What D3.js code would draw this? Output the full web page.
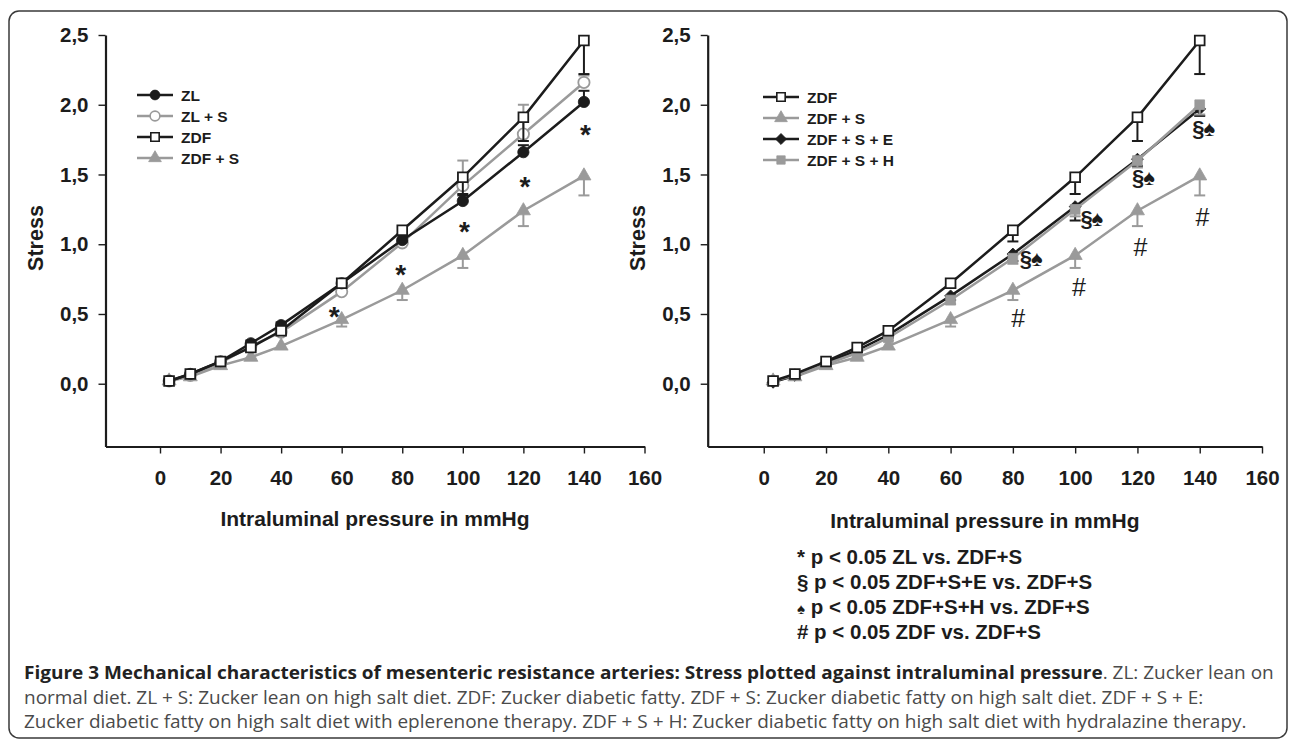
<!DOCTYPE html>
<html><head><meta charset="utf-8">
<script src="https://cdn.jsdelivr.net/npm/d3@7"></script>
<style>body{margin:0;background:#fff;} svg{display:block;}</style>
</head><body>
<svg id="c" width="1295" height="740"></svg>
<script>
// ---------- DATA ----------
const pressure = [3, 10, 20, 30, 40, 60, 80, 100, 120, 140];
const xTicks = [0, 20, 40, 60, 80, 100, 120, 140, 160];
const yTicks = [0, 0.5, 1, 1.5, 2, 2.5];

const ZL      = [0.02, 0.07, 0.16, 0.29, 0.42, 0.72, 1.03, 1.31, 1.66, 2.02];
const ZL_S    = [0.02, 0.06, 0.15, 0.27, 0.37, 0.66, 1.01, 1.42, 1.79, 2.16];
const ZDF     = [0.02, 0.07, 0.16, 0.26, 0.38, 0.72, 1.10, 1.48, 1.91, 2.46];
const ZDF_S   = [0.02, 0.05, 0.13, 0.19, 0.27, 0.46, 0.67, 0.92, 1.24, 1.49];
const ZDF_S_E = [0.01, 0.06, 0.15, 0.24, 0.35, 0.63, 0.93, 1.27, 1.61, 1.97];
const ZDF_S_H = [0.02, 0.06, 0.14, 0.22, 0.33, 0.60, 0.90, 1.25, 1.60, 2.00];

// SEM (one-sided bars)
const ZL_err      = [0, 0, 0.01, 0.02, 0.02, 0.03, 0.04, 0.04, 0.05, 0.08];
const ZL_S_err    = [0, 0, 0.01, 0.02, 0.02, 0.04, 0.05, 0.18, 0.21, 0.05];
const ZDF_err     = [0, 0, 0.01, 0.02, 0.02, 0.03, 0.08, 0.12, 0.17, 0.24];
const ZDF_S_err   = [0, 0, 0.01, 0.01, 0.02, 0.05, 0.07, 0.09, 0.11, 0.14];
const ZDF_S_E_err = [0, 0, 0.01, 0.01, 0.02, 0.03, 0.05, 0.10, 0.05, 0.05];
const ZDF_S_H_err = [0, 0, 0.01, 0.01, 0.02, 0.03, 0.04, 0.05, 0.05, 0.07];

// significance marks
const starX = [57.5, 79.5, 100.5, 120.5, 140.5];
const starY = [0.54, 0.84, 1.15, 1.47, 1.84];
const secX  = [85.7, 105.2, 121.8, 141.1];
const secY  = [0.895, 1.18, 1.48, 1.83];
const hashX = [81.7, 101.2, 121.0, 140.9];
const hashY = [0.47, 0.69, 0.98, 1.19];

const footnotes = [
  ["*", " p < 0.05 ZL vs. ZDF+S"],
  ["§", " p < 0.05 ZDF+S+E vs. ZDF+S"],
  ["♠", " p < 0.05 ZDF+S+H vs. ZDF+S"],
  ["#", " p < 0.05 ZDF vs. ZDF+S"]
];
const captionBold = "Figure 3 Mechanical characteristics of mesenteric resistance arteries: Stress plotted against intraluminal pressure";
const captionLines = [
  ". ZL: Zucker lean on",
  "normal diet. ZL + S: Zucker lean on high salt diet. ZDF: Zucker diabetic fatty. ZDF + S: Zucker diabetic fatty on high salt diet. ZDF + S + E:",
  "Zucker diabetic fatty on high salt diet with eplerenone therapy. ZDF + S + H: Zucker diabetic fatty on high salt diet with hydralazine therapy."
];

// ---------- STYLE ----------
const BLACK = "#1c1c1c", GRAY = "#9a9a9a";
const FONT = "'Liberation Sans', Arial, sans-serif";
const svg = d3.select("#c");

svg.append("rect").attr("x", 9).attr("y", 11).attr("width", 1278).attr("height", 727)
  .attr("rx", 10).attr("fill", "none").attr("stroke", "#3a3a3a").attr("stroke-width", 1.5);

function symPath(type, size) {
  const t = {circle: d3.symbolCircle, square: d3.symbolSquare, tri: d3.symbolTriangle, diamond: d3.symbolSquare}[type];
  return d3.symbol().type(t).size(size)();
}
const symRot = {circle: 0, square: 0, tri: 0, diamond: 45};
const symSize = {circle: 100, square: 95, tri: 85, diamond: 70};
const legSize = {circle: 75, square: 70, tri: 70, diamond: 60};

function panel(cfg) {
  const x = d3.scaleLinear().domain([-18, 160]).range([cfg.x0, cfg.x1]);
  const y = d3.scaleLinear().domain([-0.45, 2.5]).range([446.5, 35]);
  const g = svg.append("g");

  const ya = g.append("g").attr("transform", `translate(${cfg.x0},0)`)
    .call(d3.axisLeft(y).tickValues(yTicks).tickSize(7).tickSizeOuter(0).tickPadding(10)
      .tickFormat(d => d3.format(".1f")(d).replace(".", ",")));
  const xa = g.append("g").attr("transform", `translate(0,446.5)`)
    .call(d3.axisBottom(x).tickValues(xTicks).tickSize(7).tickSizeOuter(0).tickPadding(17));
  [ya, xa].forEach(a => {
    a.select(".domain").attr("stroke", BLACK).attr("stroke-width", 2.2);
    a.selectAll(".tick line").attr("stroke", BLACK).attr("stroke-width", 1.4);
    a.selectAll("text").attr("fill", BLACK).style("font-family", FONT)
      .style("font-weight", "bold").style("font-size", "20.5px");
  });

  g.append("text").attr("transform", `translate(${cfg.x0 - 70},238) rotate(-90)`)
    .attr("text-anchor", "middle").attr("dy", "0.35em").attr("fill", BLACK)
    .style("font-family", FONT).style("font-weight", "bold").style("font-size", "21.5px").text("Stress");
  g.append("text").attr("x", (cfg.x0 + cfg.x1) / 2).attr("y", cfg.titleY)
    .attr("text-anchor", "middle").attr("fill", BLACK)
    .style("font-family", FONT).style("font-weight", "bold").style("font-size", "21px")
    .text("Intraluminal pressure in mmHg");

  const line = d3.line().x((d, i) => x(pressure[i])).y(d => y(d));

  cfg.drawOrder.forEach(s => {
    const sg = g.append("g");
    s.vals.forEach((v, i) => {
      const e = s.err[i];
      if (!e) return;
      const y1 = y(v + s.dir * e), xc = x(pressure[i]);
      sg.append("line").attr("x1", xc).attr("x2", xc).attr("y1", y(v)).attr("y2", y1)
        .attr("stroke", s.color).attr("stroke-width", 2);
      sg.append("line").attr("x1", xc - 5.5).attr("x2", xc + 5.5).attr("y1", y1).attr("y2", y1)
        .attr("stroke", s.color).attr("stroke-width", 2);
    });
    sg.append("path").datum(s.vals).attr("d", line).attr("fill", "none")
      .attr("stroke", s.color).attr("stroke-width", 2.5);
    sg.selectAll("path.m").data(s.vals).enter().append("path").attr("class", "m")
      .attr("transform", (d, i) => `translate(${x(pressure[i])},${y(d)}) rotate(${symRot[s.sym]})`)
      .attr("d", symPath(s.sym, symSize[s.sym]))
      .attr("fill", s.open ? "#fff" : s.color)
      .attr("stroke", s.color).attr("stroke-width", s.open ? 1.8 : 0.8);
  });

  cfg.legend.forEach((s, i) => {
    const ly = cfg.legY + i * 21;
    const lx0 = cfg.legX, lx1 = cfg.legX + 36, lc = cfg.legX + 18;
    g.append("line").attr("x1", lx0).attr("x2", lx1).attr("y1", ly).attr("y2", ly)
      .attr("stroke", s.color).attr("stroke-width", 2.5);
    g.append("path").attr("transform", `translate(${lc},${ly}) rotate(${symRot[s.sym]})`)
      .attr("d", symPath(s.sym, legSize[s.sym]))
      .attr("fill", s.open ? "#fff" : s.color).attr("stroke", s.color).attr("stroke-width", s.open ? 1.6 : 0.8);
    g.append("text").attr("x", lx1 + 8).attr("y", ly).attr("dy", "0.36em").attr("fill", BLACK)
      .style("font-family", FONT).style("font-weight", "bold").style("font-size", "15.5px").text(s.name);
  });
  return {x, y, g};
}

const sZL   = {name: "ZL", vals: ZL, err: ZL_err, dir: 1, color: BLACK, sym: "circle", open: false};
const sZLS  = {name: "ZL + S", vals: ZL_S, err: ZL_S_err, dir: 1, color: GRAY, sym: "circle", open: true};
const sZDF  = {name: "ZDF", vals: ZDF, err: ZDF_err, dir: -1, color: BLACK, sym: "square", open: true};
const sZDFS = {name: "ZDF + S", vals: ZDF_S, err: ZDF_S_err, dir: -1, color: GRAY, sym: "tri", open: false};
const sE    = {name: "ZDF + S + E", vals: ZDF_S_E, err: ZDF_S_E_err, dir: -1, color: BLACK, sym: "diamond", open: false};
const sH    = {name: "ZDF + S + H", vals: ZDF_S_H, err: ZDF_S_H_err, dir: -1, color: GRAY, sym: "square", open: false};

const L = panel({x0: 105.5, x1: 644.5, titleY: 526, legX: 137, legY: 95,
  drawOrder: [sZDFS, sZLS, sZL, sZDF], legend: [sZL, sZLS, sZDF, sZDFS]});
const R = panel({x0: 707.7, x1: 1262, titleY: 528, legX: 763, legY: 97,
  drawOrder: [sZDFS, sE, sH, sZDF], legend: [sZDF, sZDFS, sE, sH]});

L.g.selectAll("text.star").data(starX).enter().append("text")
  .attr("x", (d) => L.x(d)).attr("y", (d, i) => L.y(starY[i]))
  .attr("dy", "0.62em").attr("text-anchor", "middle").attr("fill", BLACK)
  .style("font-family", FONT).style("font-weight", "bold").style("font-size", "28px").text("*");
R.g.selectAll("text.sec").data(secX).enter().append("text")
  .attr("x", (d) => R.x(d)).attr("y", (d, i) => R.y(secY[i]))
  .attr("dy", "0.33em").attr("text-anchor", "middle").attr("fill", BLACK)
  .style("font-family", FONT).style("font-weight", "bold").style("font-size", "22px")
  .style("letter-spacing", "-1px").text("§♠");
R.g.selectAll("text.hash").data(hashX).enter().append("text")
  .attr("x", (d) => R.x(d)).attr("y", (d, i) => R.y(hashY[i]))
  .attr("dy", "0.35em").attr("text-anchor", "middle").attr("fill", BLACK)
  .style("font-family", FONT).style("font-size", "25px").text("#");

footnotes.forEach((f, i) => {
  const t = svg.append("text").attr("x", 797).attr("y", 564 + i * 25).attr("fill", BLACK)
    .style("font-family", FONT).style("font-weight", "bold").style("font-size", "20.5px");
  t.append("tspan").style("font-size", f[0] === "♠" ? "15px" : "20.5px").text(f[0]);
  t.append("tspan").text(f[1]);
});

const capFont = "'Open Sans', 'Noto Sans', sans-serif";
const capG = svg.append("g");
const capTexts = [];
captionLines.forEach((ln, i) => {
  const t = capG.append("text").attr("x", 0).attr("y", 0)
    .style("font-family", capFont).style("font-size", "18.5px").attr("fill", "#4a4a4a");
  if (i === 0) t.append("tspan").style("font-weight", "bold").attr("fill", "#222").text(captionBold);
  t.append("tspan").text(ln);
  capTexts.push(t);
});
const w3 = capTexts[2].node().getComputedTextLength();
const sx = (1247 - 24) / w3;
capTexts.forEach((t, i) => t.attr("transform", `translate(24,${679 + i * 24.5}) scale(${sx},1)`));
</script>
</body></html>
